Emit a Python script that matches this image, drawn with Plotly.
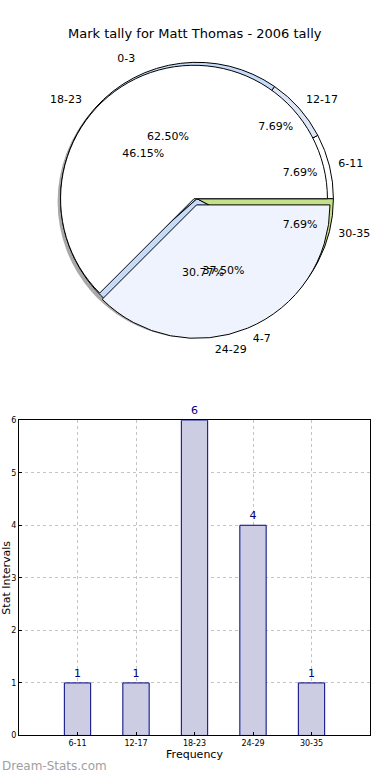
import plotly.graph_objects as go

title = "Mark tally for Matt Thomas - 2006 tally"
outer_labels = ["6-11", "12-17", "18-23", "24-29", "30-35"]
outer_values = [1, 1, 6, 4, 1]
outer_colors = ["#ffffff", "#dde6f7", "#c4dcf9", "#c4dcf9", "#c5df8a"]
inner_labels = ["0-3", "4-7"]
inner_values = [5, 3]
inner_colors = ["#ffffff", "#eef3fd"]

bar_cats = ["6-11", "12-17", "18-23", "24-29", "30-35"]
bar_vals = [1, 1, 6, 4, 1]

W, H = 390, 780
cx, cy, R = 194, 197, 137
font = "DejaVu Sans"


def dom(cx, cy, r):
    return dict(x=[(cx - r) / W, (cx + r) / W], y=[1 - (cy + r) / H, 1 - (cy - r) / H])


def rot(values):
    # matplotlib-style: first slice starts at 3 o'clock, counterclockwise
    return 90 - 360 * values[0] / sum(values)


def pie(labels, values, d, pull=None, **kw):
    return go.Pie(labels=labels, values=values, sort=False,
                  direction="counterclockwise", rotation=rot(values),
                  domain=d, showlegend=False, pull=pull, **kw)


fig = go.Figure()
clear = lambda n: dict(colors=["rgba(0,0,0,0)"] * n, line=dict(width=0))
inner_pull = [0, 0.05]
grow = 1 + max(inner_pull)

# shadow
fig.add_trace(pie(outer_labels, outer_values, dom(cx, cy + 3, R + 1),
                  marker=dict(colors=["#a8a8a8"] * 5, line=dict(width=0)),
                  textinfo="none", hoverinfo="skip"))
# outer pie
fig.add_trace(pie(outer_labels, outer_values, dom(cx + 3, cy, R + 1),
                  marker=dict(colors=outer_colors, line=dict(color="#000000", width=1)),
                  textinfo="none"))
# inner pie
fig.add_trace(pie(inner_labels, inner_values, dom(cx, cy, (R - 2) * grow), pull=inner_pull,
                  marker=dict(colors=inner_colors, line=dict(color="#000000", width=1)),
                  textinfo="none"))
# texts on top (transparent pies)
for labs, vals, pl, g in [(outer_labels, outer_values, None, 1),
                          (inner_labels, inner_values, inner_pull, grow)]:
    fig.add_trace(pie(labs, vals, dom(cx, cy, R * g), pull=pl, marker=clear(len(labs)),
                      texttemplate="%{percent:.2%}", textposition="inside",
                      insidetextorientation="horizontal",
                      textfont=dict(family=font, size=11, color="#000000"),
                      hoverinfo="skip"))
    fig.add_trace(pie(labs, vals, dom(cx, cy, R + 10), marker=clear(len(labs)),
                      textinfo="label", textposition="outside",
                      textfont=dict(family=font, size=11, color="#000000"),
                      hoverinfo="skip"))

fig.add_trace(go.Bar(x=bar_cats, y=bar_vals, width=0.45,
                     marker=dict(color="#ccccE3", line=dict(color="#000080", width=1)),
                     text=[str(v) for v in bar_vals], textposition="outside",
                     textfont=dict(family=font, size=11, color="#000080"),
                     cliponaxis=False, showlegend=False))

grid = dict(showgrid=True, gridcolor="#c4c4c4", griddash="dot", gridwidth=1,
            showline=True, linecolor="#000000", linewidth=1, mirror=True,
            ticks="inside", ticklen=3, tickcolor="#000000", zeroline=False,
            tickfont=dict(family=font, size=8, color="#000000"))

fig.update_layout(
    width=W, height=H, margin=dict(l=0, r=0, t=0, b=0),
    paper_bgcolor="#ffffff", plot_bgcolor="#ffffff",
    font=dict(family=font, size=11, color="#000000"),
    xaxis=dict(domain=[19 / W, 370 / W], range=[-1, 5], type="category",
               title=dict(text="Frequency", font=dict(family=font, size=11), standoff=2),
               **grid),
    yaxis=dict(domain=[1 - 740 / H, 1 - 421 / H], range=[0, 6], dtick=1,
               title=dict(text="Stat Intervals", font=dict(family=font, size=11), standoff=2),
               **grid),
    annotations=[
        dict(text=title, x=0.5, y=1 - 30 / H, xref="paper", yref="paper",
             xanchor="center", yanchor="middle", showarrow=False,
             font=dict(family=font, size=13, color="#000000")),
        dict(text="Dream-Stats.com", x=0, y=1 - 771 / H, xref="paper", yref="paper",
             xanchor="left", yanchor="middle", showarrow=False,
             font=dict(family=font, size=12, color="#a0a0a0")),
    ],
)

fig.write_html("out.html", config={"displayModeBar": False},
               post_script="document.body.style.margin='0';")
